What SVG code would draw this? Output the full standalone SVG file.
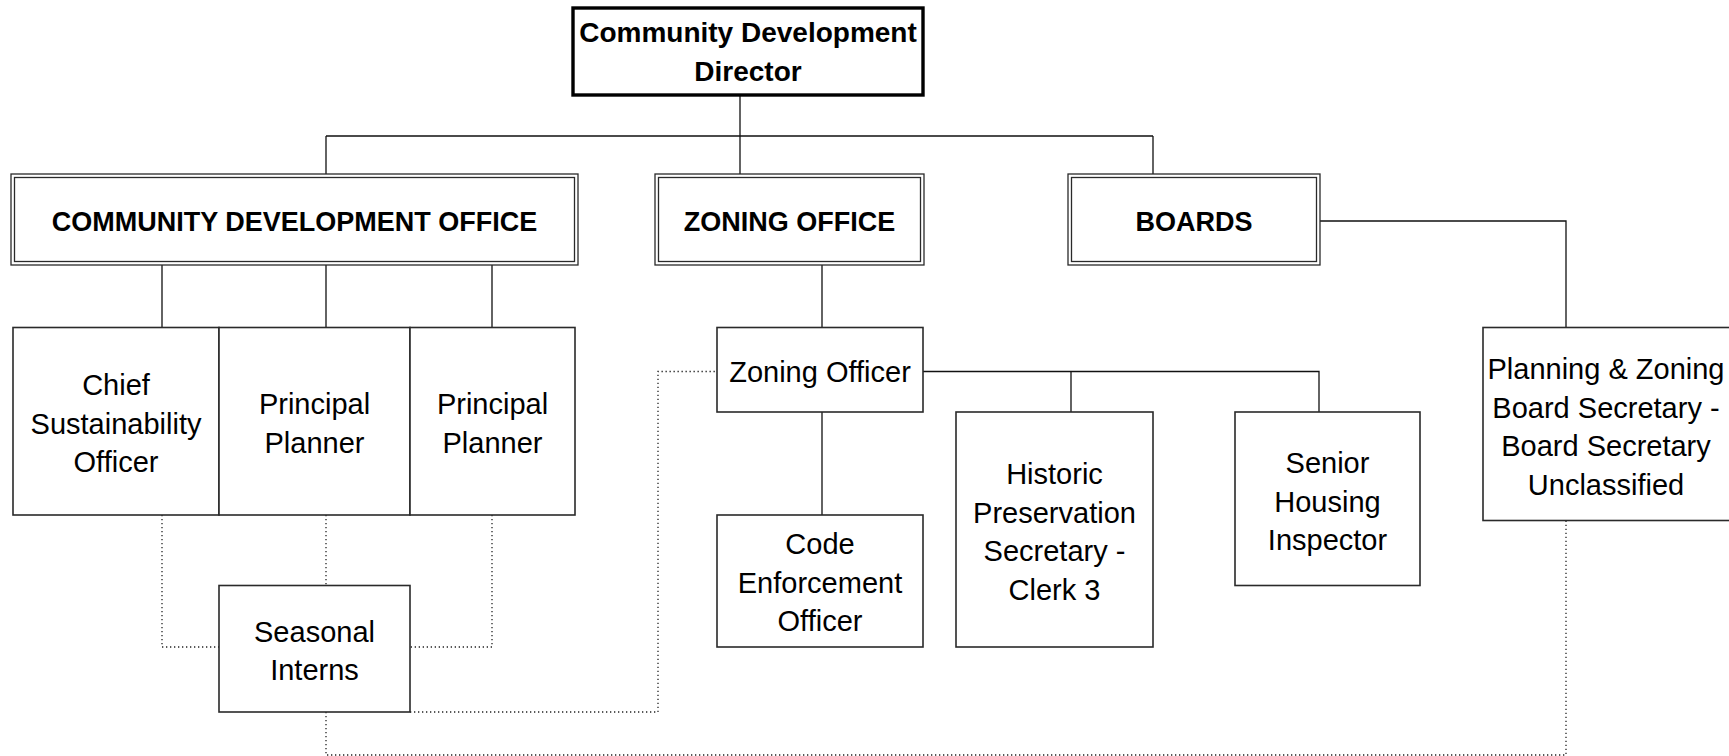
<svg xmlns="http://www.w3.org/2000/svg" width="1729" height="756" viewBox="0 0 1729 756">
<style>
.bg{fill:#fff}
.box{fill:#fff;stroke:#2a2a2a;stroke-width:1.6}
.dir{fill:#fff;stroke:#000;stroke-width:3.4}
.dbl{fill:none;stroke:#2a2a2a;stroke-width:1.3}
.con{fill:none;stroke:#111;stroke-width:1.3}
.dot{fill:none;stroke:#222;stroke-width:1.3;stroke-dasharray:1.3 2.7}
.t{font-family:"Liberation Sans",Arial,sans-serif;font-size:29px;fill:#000;text-anchor:middle;dominant-baseline:central}
.b{font-family:"Liberation Sans",Arial,sans-serif;font-size:27px;font-weight:bold;fill:#000;text-anchor:middle;dominant-baseline:central}
</style>
<rect class="bg" x="0" y="0" width="1729" height="756"/>
<g id="connectors">
<path class="con" d="M740 95V136M326 136H1153M326 136V174M740 136V174M1153 136V174"/>
<path class="con" d="M162 265V327.5M326 265V327.5M492 265V327.5M822 265V327.5"/>
<path class="con" d="M1320 221H1566V327.5"/>
<path class="con" d="M923 371.5H1319V412M1071 371.5V412M822 412V515"/>
<path class="dot" d="M162 515V647H219M326 515V585.5M492 515V647H410"/>
<path class="dot" d="M410 712H658V371.5H717"/>
<path class="dot" d="M326 712V755H1566V520.5"/>
</g>
<g id="director">
<rect class="dir" x="573" y="8" width="350" height="87"/>
<text class="b" style="font-size:28px" x="748" y="32">Community Development</text>
<text class="b" style="font-size:28px" x="748" y="71">Director</text>
</g>
<g id="cdo">
<rect class="box" x="11" y="174" width="567" height="91" style="stroke-width:1.3"/>
<rect class="dbl" x="14.5" y="177.5" width="560" height="84"/>
<text class="b" x="294.5" y="222">COMMUNITY DEVELOPMENT OFFICE</text>
</g>
<g id="zoning-office">
<rect class="box" x="655" y="174" width="269" height="91" style="stroke-width:1.3"/>
<rect class="dbl" x="658.5" y="177.5" width="262" height="84"/>
<text class="b" x="789.5" y="222">ZONING OFFICE</text>
</g>
<g id="boards">
<rect class="box" x="1068" y="174" width="252" height="91" style="stroke-width:1.3"/>
<rect class="dbl" x="1071.5" y="177.5" width="245" height="84"/>
<text class="b" x="1194" y="222">BOARDS</text>
</g>
<g id="chief">
<rect class="box" x="13" y="327.5" width="206" height="187.5"/>
<text class="t" x="116" y="385">Chief</text>
<text class="t" x="116" y="423.5">Sustainability</text>
<text class="t" x="116" y="462">Officer</text>
</g>
<g id="principal-planner-1">
<rect class="box" x="219" y="327.5" width="191" height="187.5"/>
<text class="t" x="314.5" y="404">Principal</text>
<text class="t" x="314.5" y="442.5">Planner</text>
</g>
<g id="principal-planner-2">
<rect class="box" x="410" y="327.5" width="165" height="187.5"/>
<text class="t" x="492.5" y="404">Principal</text>
<text class="t" x="492.5" y="442.5">Planner</text>
</g>
<g id="seasonal-interns">
<rect class="box" x="219" y="585.5" width="191" height="126.5"/>
<text class="t" x="314.5" y="632">Seasonal</text>
<text class="t" x="314.5" y="669.5">Interns</text>
</g>
<g id="zoning-officer">
<rect class="box" x="717" y="327.5" width="206" height="84.5"/>
<text class="t" x="820" y="371.5">Zoning Officer</text>
</g>
<g id="code-enforcement">
<rect class="box" x="717" y="515" width="206" height="132"/>
<text class="t" x="820" y="544">Code</text>
<text class="t" x="820" y="582.5">Enforcement</text>
<text class="t" x="820" y="621">Officer</text>
</g>
<g id="historic-preservation">
<rect class="box" x="956" y="412" width="197" height="235"/>
<text class="t" x="1054.5" y="474">Historic</text>
<text class="t" x="1054.5" y="512.5">Preservation</text>
<text class="t" x="1054.5" y="551">Secretary -</text>
<text class="t" x="1054.5" y="589.5">Clerk 3</text>
</g>
<g id="senior-housing">
<rect class="box" x="1235" y="412" width="185" height="173.5"/>
<text class="t" x="1327.5" y="463">Senior</text>
<text class="t" x="1327.5" y="501.5">Housing</text>
<text class="t" x="1327.5" y="540">Inspector</text>
</g>
<g id="pz-board-secretary">
<rect class="box" x="1483" y="327.5" width="250" height="193"/>
<text class="t" x="1606" y="369">Planning &amp; Zoning</text>
<text class="t" x="1606" y="407.5">Board Secretary -</text>
<text class="t" x="1606" y="446">Board Secretary</text>
<text class="t" x="1606" y="484.5">Unclassified</text>
</g>
</svg>
